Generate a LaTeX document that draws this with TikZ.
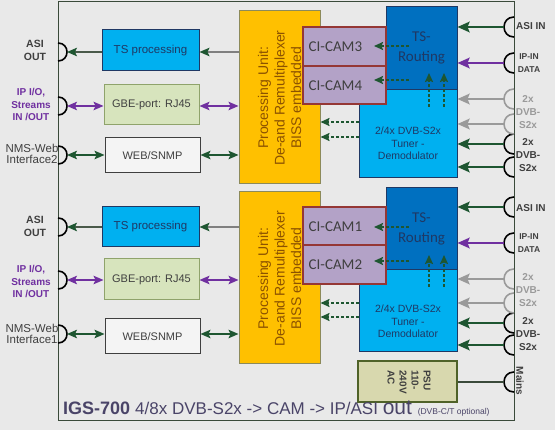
\documentclass[tikz,border=0pt]{standalone}
\usepackage{fontspec}
\setmainfont{Liberation Sans}
\newfontfamily\calfont{Carlito}
\usetikzlibrary{arrows.meta}
\definecolor{bg}{HTML}{E9E9E9}
\definecolor{dgreen}{HTML}{1E5631}
\definecolor{ppl}{HTML}{7030A0}
\definecolor{gryA}{HTML}{9A9A9A}
\definecolor{tsblue}{HTML}{00B0F0}
\definecolor{rtblue}{HTML}{0070C0}
\definecolor{navy}{HTML}{1F3864}
\definecolor{gbeF}{HTML}{D7E4BD}
\definecolor{gbeB}{HTML}{8FA36B}
\definecolor{webF}{HTML}{F4F4F4}
\definecolor{procF}{HTML}{FFC000}
\definecolor{procB}{HTML}{8C8A5A}
\definecolor{procT}{HTML}{8C5200}
\definecolor{camF}{HTML}{B3A2C7}
\definecolor{camB}{HTML}{953735}
\definecolor{psuF}{HTML}{D8D8AE}
\definecolor{psuB}{HTML}{4F6228}
\definecolor{frameC}{HTML}{3A4A3A}
\definecolor{txtG}{HTML}{3F3F3F}
\definecolor{titleC}{HTML}{4A4468}
\definecolor{lineG}{HTML}{4A5A4A}
\begin{document}
\begin{tikzpicture}[x=1pt,y=-1pt,
  blk/.style={draw, line width=1pt, inner sep=0pt, align=center},
  tsbox/.style={blk, fill=tsblue, draw=navy, text=navy, font=\fontsize{11.5}{13}\selectfont},
  gbebox/.style={blk, fill=gbeF, draw=gbeB, text=txtG, font=\fontsize{11}{13}\selectfont},
  webbox/.style={blk, fill=webF, draw=txtG, text=txtG, font=\fontsize{11}{13}\selectfont},
  procbox/.style={blk, fill=procF, draw=procB},
  procTxt/.style={rotate=90, align=center, text=procT, inner sep=0pt, font=\fontsize{14}{16.5}\selectfont},
  routbox/.style={blk, fill=rtblue, draw=navy},
  routTxt/.style={align=center, text=navy, inner sep=0pt, font=\calfont\fontsize{15}{20}\selectfont},
  tunbox/.style={blk, fill=tsblue, draw=navy},
  tunTxt/.style={align=center, text=navy, inner sep=0pt, font=\fontsize{10.5}{12.5}\selectfont},
  cambox/.style={blk, fill=camF, draw=camB, line width=1.6pt},
  camTxt/.style={anchor=west, inner sep=0pt, text=txtG, font=\calfont\fontsize{15}{15}\selectfont},
  psubox/.style={blk, fill=psuF, draw=psuB, line width=1.5pt},
  lblB/.style={align=center, inner sep=0pt, text=txtG, font=\bfseries\fontsize{10.5}{13}\selectfont},
  lblP/.style={align=center, inner sep=0pt, text=ppl, font=\bfseries\fontsize{10}{12.5}\selectfont},
  lblN/.style={align=center, inner sep=0pt, text=txtG, font=\fontsize{11.5}{11}\selectfont},
  lblR/.style={align=center, inner sep=0pt, text=txtG, font=\bfseries\fontsize{10}{13}\selectfont},
  lblRG/.style={lblR, text=gryA},
  lblD/.style={align=center, inner sep=0pt, text=txtG, font=\bfseries\fontsize{8.5}{13}\selectfont},
  arrL/.style={line width=1.2pt, -{Stealth[length=10pt,width=8.5pt,inset=2pt,color=dgreen]}},
  arrLL/.style={line width=1.2pt, {Stealth[length=10pt,width=8.5pt,inset=2pt]}-{Stealth[length=10pt,width=8.5pt,inset=2pt]}},
  arrR/.style={line width=2.8pt, -{Stealth[length=12pt,width=10.5pt,inset=2pt]}},
  dsh/.style={draw=dgreen, line width=1.8pt, dash pattern=on 3pt off 2pt, -{Stealth[length=9pt,width=8pt,inset=1.5pt]}},
  conn/.style={line width=1.6pt, draw=black}
]
\useasboundingbox (0,0) rectangle (555,430);
\fill[bg] (0,0) rectangle (555,430);
\draw[frameC, line width=1pt] (58,1.5) rectangle (514,421);

% ---------------- upper unit ----------------
\node[procbox, minimum width=81pt, minimum height=173pt] (proc1) at (279.5,97.5) {};
\node[procTxt] (proc1t) at (279.5,98) {Processing Unit:\\De-and Remultiplexer\\BISS embedded};
\node[tsbox, minimum width=97pt, minimum height=41pt] (tsp1) at (150.5,50.5) {TS processing};
\node[gbebox, minimum width=95pt, minimum height=40pt] (gbe1) at (151.5,105) {GBE-port: RJ45};
\node[webbox, minimum width=95pt, minimum height=35pt] (web1) at (152.5,155.5) {WEB/SNMP};
\node[tunbox, minimum width=98pt, minimum height=88pt] (tun1) at (408,134) {};
\node[routbox, minimum width=71pt, minimum height=83pt] (rout1) at (421.5,48.5) {};
\node[routTxt] (rout1t) at (421.5,48) {TS-\\Routing};
\node[tunTxt] (tun1t) at (408,143.5) {2/4x DVB-S2x\\Tuner -\\Demodulator};
\node[cambox, minimum width=83pt, minimum height=39pt] (cam3) at (344.5,46.5) {};
\node[cambox, minimum width=83pt, minimum height=38pt] (cam4) at (344.5,85) {};
\node[camTxt] (cam3t) at (308.5,47) {CI-CAM3};
\node[camTxt] (cam4t) at (308.5,85.5) {CI-CAM4};

% ---------------- lower unit ----------------
\node[procbox, minimum width=81pt, minimum height=172pt] (proc2) at (279.5,278) {};
\node[procTxt] (proc2t) at (279.5,278.5) {Processing Unit:\\De-and Remultiplexer\\BISS embedded};
\node[tsbox, minimum width=97pt, minimum height=40pt] (tsp2) at (150.5,227) {TS processing};
\node[gbebox, minimum width=95pt, minimum height=41pt] (gbe2) at (151.5,279.5) {GBE-port: RJ45};
\node[webbox, minimum width=95pt, minimum height=35pt] (web2) at (152.5,336.5) {WEB/SNMP};
\node[tunbox, minimum width=98pt, minimum height=82pt] (tun2) at (408,311) {};
\node[routbox, minimum width=71pt, minimum height=82pt] (rout2) at (421.5,229) {};
\node[routTxt] (rout2t) at (421.5,228.5) {TS-\\Routing};
\node[tunTxt] (tun2t) at (408,321.5) {2/4x DVB-S2x\\Tuner -\\Demodulator};
\node[cambox, minimum width=83pt, minimum height=38pt] (cam1) at (344.5,226) {};
\node[cambox, minimum width=83pt, minimum height=39pt] (cam2) at (344.5,264.5) {};
\node[camTxt] (cam1t) at (308.5,226.5) {CI-CAM1};
\node[camTxt] (cam2t) at (308.5,265) {CI-CAM2};

\node[psubox, minimum width=99pt, minimum height=41pt] (psu) at (407.5,381.5) {};
\node[rotate=-90, align=left, inner sep=0pt, text=txtG, font=\bfseries\fontsize{10}{12}\selectfont] (psut) at (409,382) {PSU\\110-\\240V\\AC};

% ---------------- connectors (sockets) ----------------
\foreach \yy in {52,106,155,227,280,334}
  \draw[conn] (58,\yy-9) .. controls (70,\yy-9) and (70,\yy+9) .. (58,\yy+9);
\foreach \yy in {27,63,144,167,207,243,323,345,382}
  \draw[conn] (514,\yy-10) .. controls (500.7,\yy-10) and (500.7,\yy+10) .. (514,\yy+10);
\foreach \yy in {99,124,279,303}
  \draw[conn, draw=gryA] (514,\yy-10) .. controls (500.7,\yy-10) and (500.7,\yy+10) .. (514,\yy+10);

\coordinate (cAO1) at (67,52);  \coordinate (cIP1) at (67,106); \coordinate (cNM1) at (67,155);
\coordinate (cAO2) at (67,227); \coordinate (cIP2) at (67,280); \coordinate (cNM2) at (67,334);
\coordinate (cAI1) at (504,27);  \coordinate (cII1) at (504,63);
\coordinate (cG1a) at (504,99);  \coordinate (cG1b) at (504,124);
\coordinate (cD1a) at (504,144); \coordinate (cD1b) at (504,167);
\coordinate (cAI2) at (504,207); \coordinate (cII2) at (504,243);
\coordinate (cG2a) at (504,279); \coordinate (cG2b) at (504,303);
\coordinate (cD2a) at (504,323); \coordinate (cD2b) at (504,345);
\coordinate (cMn) at (504,382);

% ---------------- side arrows ----------------
\foreach \u in {1,2}{
  \draw[arrL, draw=lineG] (tsp\u.west |- cAO\u) -- (cAO\u);
  \draw[arrL, draw=gray] (proc\u.west |- cAO\u) -- (tsp\u.east |- cAO\u);
  \draw[arrLL, draw=ppl] (cIP\u) -- (gbe\u.west |- cIP\u);
  \draw[arrLL, draw=ppl] (gbe\u.east |- cIP\u) -- (proc\u.west |- cIP\u);
  \draw[arrLL, draw=dgreen] (cNM\u) -- (web\u.west |- cNM\u);
  \draw[arrLL, draw=dgreen] (web\u.east |- cNM\u) -- (proc\u.west |- cNM\u);
  \draw[arrR, draw=dgreen] (cAI\u) -- (rout\u.east |- cAI\u);
  \draw[arrR, draw=ppl] (cII\u) -- (rout\u.east |- cII\u);
  \draw[arrR, draw=gryA] (cG\u a) -- (tun\u.east |- cG\u a);
  \draw[arrR, draw=gryA] (cG\u b) -- (tun\u.east |- cG\u b);
  \draw[arrR, draw=dgreen] (cD\u a) -- (tun\u.east |- cD\u a);
  \draw[arrR, draw=dgreen] (cD\u b) -- (tun\u.east |- cD\u b);
}
\draw[line width=1.3pt, draw=frameC] (psu.east |- cMn) -- (cMn);

% ---------------- dashed internal arrows ----------------
\coordinate (d3a) at (409,46);  \coordinate (d3b) at (374,46);
\coordinate (d4a) at (409,80);  \coordinate (d4b) at (374,80);
\coordinate (u1a) at (429,107); \coordinate (u1b) at (429,73);
\coordinate (u2a) at (444,107); \coordinate (u2b) at (444,73);
\draw[dsh] (d3a) -- (d3b);
\draw[dsh] (d4a) -- (d4b);
\draw[dsh] (u1a) -- (u1b);
\draw[dsh] (u2a) -- (u2b);
\draw[dsh] (tun1.west |- 0,122) -- (proc1.east |- 0,122);
\draw[dsh] (tun1.west |- 0,137) -- (proc1.east |- 0,137);

\coordinate (d1a) at (409,227); \coordinate (d1b) at (374,227);
\coordinate (d2a) at (409,261); \coordinate (d2b) at (374,261);
\coordinate (v1a) at (429,287); \coordinate (v1b) at (429,255);
\coordinate (v2a) at (444,287); \coordinate (v2b) at (444,255);
\draw[dsh] (d1a) -- (d1b);
\draw[dsh] (d2a) -- (d2b);
\draw[dsh] (v1a) -- (v1b);
\draw[dsh] (v2a) -- (v2b);
\draw[dsh] (tun2.west |- 0,303) -- (proc2.east |- 0,303);
\draw[dsh] (tun2.west |- 0,317) -- (proc2.east |- 0,317);

% ---------------- labels ----------------
\node[lblB] (lAO1) at (35,50.5) {ASI\\OUT};
\node[lblP] (lIP1) at (31,104.5) {IP I/O,\\Streams\\IN /OUT};
\node[lblN] (lNM1) at (32,153.5) {NMS-Web\\Interface2};
\node[lblB] (lAO2) at (35,226.5) {ASI\\OUT};
\node[lblP] (lIP2) at (31,281.5) {IP I/O,\\Streams\\IN /OUT};
\node[lblN] (lNM2) at (32,333.5) {NMS-Web\\Interface1};

\node[lblR, anchor=west] (lAI1) at (516,26) {ASI IN};
\node[lblD] (lII1) at (529,63.5) {IP-IN\\DATA};
\node[lblRG] (lG1) at (528,112) {2x\\DVB-\\S2x};
\node[lblR] (lD1) at (528,155.5) {2x\\DVB-\\S2x};
\node[lblR, anchor=west] (lAI2) at (516,208) {ASI IN};
\node[lblD] (lII2) at (529,243.5) {IP-IN\\DATA};
\node[lblRG] (lG2) at (528,290.5) {2x\\DVB-\\S2x};
\node[lblR] (lD2) at (528,334.5) {2x\\DVB-\\S2x};
\node[lblR, rotate=-90] (lMn) at (520,381) {Mains};

\node[anchor=base west, inner sep=0pt, text=titleC] (title) at (63,415)
  {{\bfseries\fontsize{18}{18}\selectfont IGS-700 }{\fontsize{17}{18}\selectfont 4/8x DVB-S2x -> CAM -> IP/ASI }{\fontsize{21}{18}\selectfont out }{\fontsize{8.5}{9}\selectfont (DVB-C/T optional)}};
\end{tikzpicture}
\end{document}
